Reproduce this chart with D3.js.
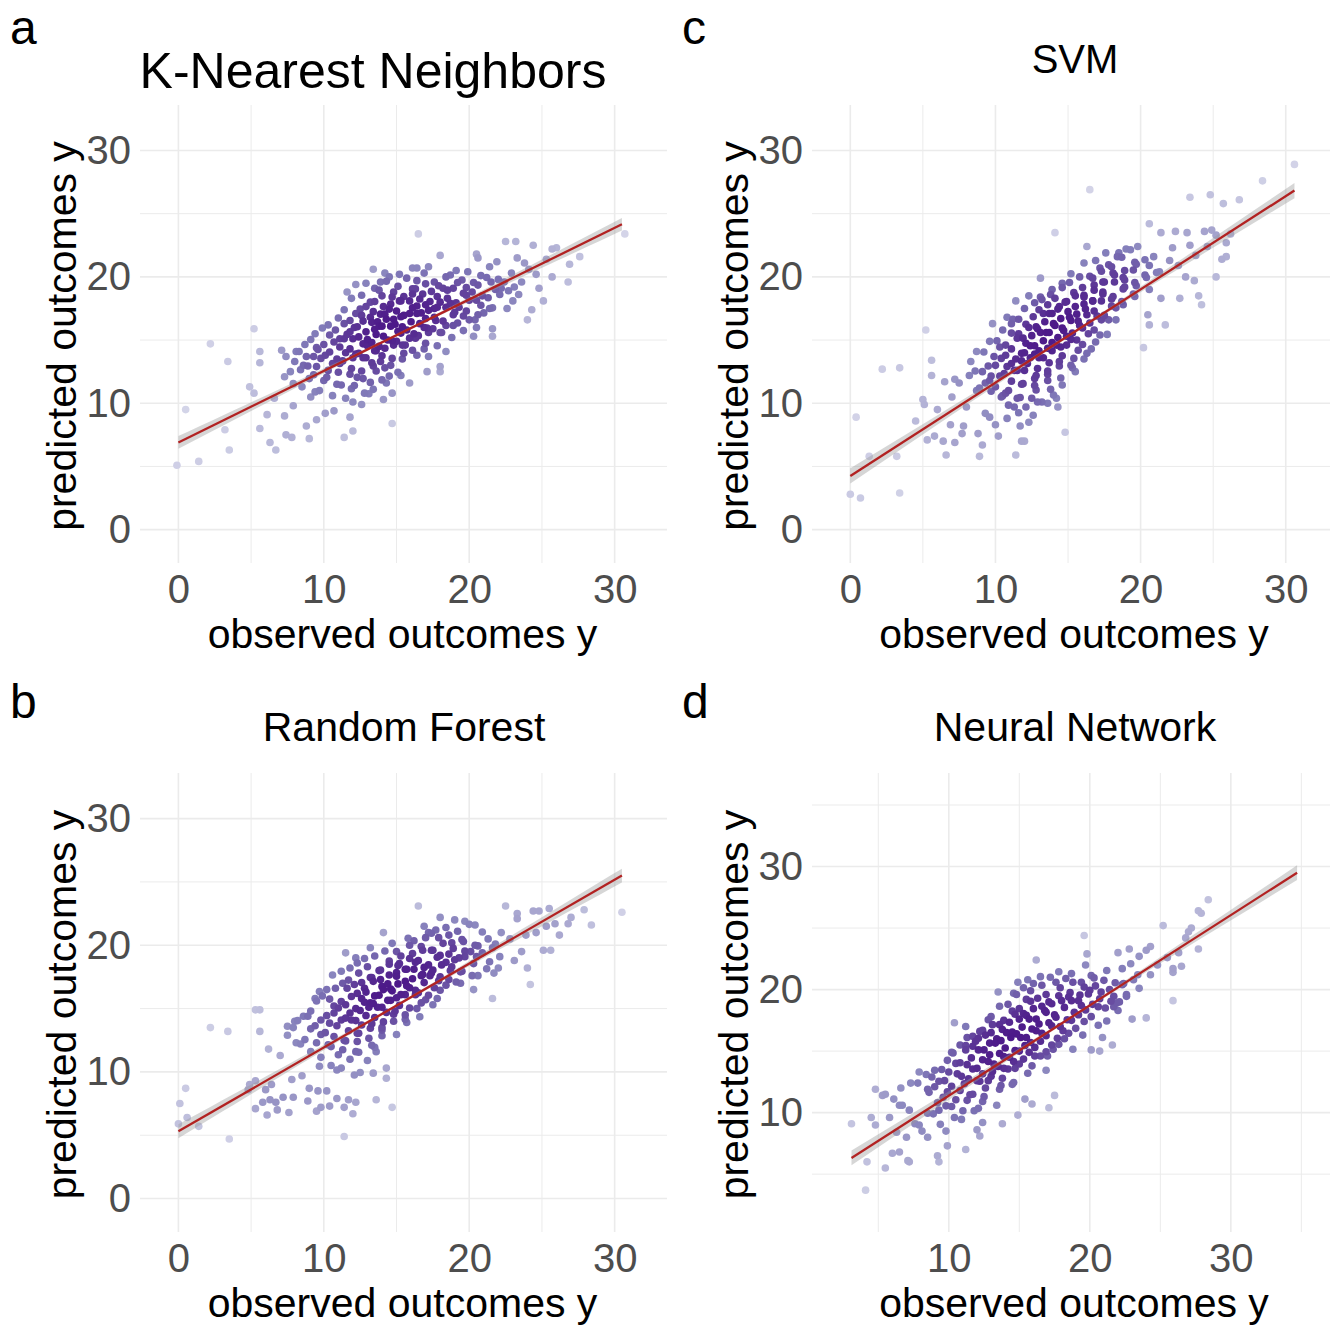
<!doctype html>
<html>
<head>
<meta charset="UTF-8">
<title>Observed vs predicted outcomes</title>
<script src="https://d3js.org/d3.v7.min.js"></script>
<style>
  body { margin: 0; background: #fff; }
</style>
</head>
<body>
<script>
var W = 1330, H = 1325;
var FONT = "'Liberation Sans', Arial, Helvetica, sans-serif";

var titles = ["K-Nearest Neighbors", "SVM", "Random Forest", "Neural Network"];
var tagLetters = ["a", "c", "b", "d"];
var xLabel = "observed outcomes y";
var yLabel = "predicted outcomes y";

var majorTicks = [[0, 10, 20, 30], [0, 10, 20, 30], [0, 10, 20, 30], [10, 20, 30]];
var minorTicks = [[5, 15, 25], [5, 15, 25], [5, 15, 25], [5, 15, 25, 35]];

// fitted lines: [x start, y start, x end, y end]
var fitLines = [[0, 6.9, 30.5, 24.16], [0, 4.25, 30.6, 26.83], [0, 5.31, 30.5, 25.5], [3.1, 6.32, 34.7, 29.5]];
// half width of the grey band: [at the ends, in the middle]
var bandWidth = [[0.5, 0.1], [0.6, 0.12], [0.55, 0.11], [0.6, 0.12]];

// K-Nearest Neighbors: [observed, predicted]
var knnPoints = [
 [-0.1,5.1],[0.5,9.5],[1.4,5.4],[2.2,14.7],[3.2,7.9],[3.4,13.3],[3.5,6.3],[4.9,11.3],[5.2,10.8],[5.2,15.9],
 [5.6,13.2],[5.6,14.1],[5.6,8.0],[6.3,6.9],[6.7,6.3],[6.1,9.1],[6.6,10.4],[7.1,14.2],[7.4,13.7],[7.4,7.5],
 [7.8,7.3],[7.9,9.8],[7.3,9.0],[8.1,14.1],[8.8,13.7],[8.8,8.2],[9.0,7.2],[9.5,14.4],[9.5,8.7],[9.1,10.5],
 [10.1,9.2],[10.7,9.4],[11.4,7.3],[11.8,8.9],[12.0,7.8],[11.5,10.4],[12.0,10.1],[12.6,9.9],[12.8,10.8],[14.7,8.4],
 [14.1,10.3],[14.3,11.6],[14.7,10.8],[15.3,12.2],[15.9,11.6],[17.1,12.5],[18.0,12.5],[18.0,12.9],[17.2,13.7],[18.4,14.1],
 [16.5,23.4],[22.5,22.8],[23.2,22.8],[24.4,22.5],[25.7,22.2],[26.0,22.3],[30.7,23.4],[26.8,19.6],[25.7,20.0],[24.8,19.1],
 [25.1,18.1],[24.0,16.6],[24.3,17.4],[22.6,17.5],[23.0,18.1],[21.6,15.3],[21.6,15.9],[20.3,15.3],[20.5,16.0],[23.3,21.5],
 [20.5,21.8],[20.6,21.5],[18.0,21.7],[21.4,20.8],[14.2,20.3],[13.9,19.6],[12.2,19.4],[11.6,18.8],[16.1,20.7],[16.4,20.7],
 [16.4,19.7],[17.2,20.8],[22.9,20.3],[23.6,19.6],[24.1,20.6],[22.2,19.1],[23.8,21.1],[24.6,20.2],[26.9,21.0],[25.3,21.4],
 [21.9,21.2],[27.6,21.6],
 [13.4,20.6],[15.2,20.2],[16.9,20.3],[18.4,20.0],[19.1,20.5],[19.9,20.4],[20.8,20.1],
 [12.9,19.5],[14.5,20.0],[15.7,19.9],[17.6,19.6],[18.7,20.15],[19.5,19.75],[20.3,19.55],[21.2,19.95],[22.0,19.8],
 [13.5,19.1],[14.3,19.65],[15.1,19.25],[16.3,19.05],[17.0,19.45],[17.9,19.3],[18.5,18.95],[19.2,19.55],[19.8,19.15],[20.6,19.35],[21.5,19.6],[22.4,19.6],[23.1,19.2],
 [12.6,18.55],[13.8,18.95],[14.8,18.8],[15.5,18.45],[16.1,19.05],[16.8,18.65],[17.4,18.85],[18.2,19.1],[18.9,19.1],[19.6,18.7],[20.2,18.8],[20.9,18.5],[21.8,19.0],[22.7,18.9],
 [11.9,18.3],[13.2,18.0],[14.0,18.5],[14.7,18.4],[15.3,18.1],[16.1,18.65],[16.6,18.25],[17.3,18.05],[17.8,18.45],[18.5,18.3],[19.1,17.95],[19.8,18.55],[20.5,18.15],[21.3,18.35],[22.1,18.6],[23.4,18.6],
 [12.5,17.45],[13.5,18.05],[14.1,17.65],[14.6,17.85],[15.2,18.1],[15.9,18.1],[16.4,17.7],[17.0,17.8],[17.6,17.5],[18.0,18.0],[18.7,17.9],[19.3,17.6],[20.0,18.15],[20.8,17.75],[21.6,17.55],
 [11.4,17.4],[12.2,17.1],[12.9,17.65],[13.4,17.25],[13.9,17.05],[14.5,17.45],[15.0,17.3],[15.5,16.95],[16.1,17.55],[16.7,17.15],[17.2,17.35],[17.8,17.6],[18.4,17.6],[19.0,17.2],[19.8,17.3],[20.6,17.0],[21.4,17.5],
 [11.0,16.75],[11.8,16.55],[12.6,16.95],[13.2,16.8],[13.7,16.45],[14.2,17.05],[14.8,16.65],[15.3,16.85],[15.9,17.1],[16.4,17.1],[17.0,16.7],[17.6,16.8],[18.2,16.5],[18.9,17.0],[19.6,16.9],[20.4,16.6],[21.0,17.15],
 [10.3,16.2],[11.4,16.3],[12.1,16.0],[12.7,16.5],[13.3,16.4],[13.8,16.1],[14.3,16.65],[14.9,16.25],[15.4,16.05],[16.0,16.45],[16.6,16.3],[17.1,15.95],[17.7,16.55],[18.4,16.15],[19.2,16.35],[20.0,16.6],
 [9.9,15.95],[10.8,15.8],[11.6,15.45],[12.3,16.05],[12.9,15.65],[13.5,15.85],[14.0,16.1],[14.6,16.1],[15.1,15.7],[15.7,15.8],[16.2,15.5],[16.9,16.0],[17.5,15.9],[18.1,15.6],[18.9,16.15],[19.6,15.75],
 [9.4,15.5],[10.4,15.4],[11.1,15.1],[11.8,15.65],[12.4,15.25],[13.0,15.05],[13.6,15.45],[14.1,15.3],[14.7,14.95],[15.3,15.55],[15.9,15.15],[16.5,15.35],[17.2,15.6],[18.0,15.6],[18.8,15.2],
 [9.1,15.05],[10.0,14.65],[10.7,14.85],[11.4,15.1],[12.0,15.1],[12.7,14.7],[13.3,14.8],[13.8,14.5],[14.4,15.0],[15.0,14.9],[15.6,14.6],[16.3,15.15],[17.0,14.75],[17.8,14.55],
 [8.7,14.65],[9.6,14.25],[10.4,14.05],[11.1,14.45],[11.8,14.3],[12.4,13.95],[13.0,14.55],[13.6,14.15],[14.2,14.35],[14.8,14.6],[15.4,14.6],[16.1,14.2],[16.9,14.3],
 [8.3,14.1],[9.3,13.7],[10.1,13.8],[10.9,13.5],[11.5,14.0],[12.2,13.9],[12.9,13.6],[13.5,14.15],[14.0,13.75],[14.7,13.55],[15.5,13.95],[16.4,13.8],
 [8.0,13.3],[8.9,12.95],[9.8,13.55],[10.6,13.15],[11.3,13.35],[12.0,13.6],[12.7,13.6],[13.3,13.2],[13.9,13.3],[14.6,13.0],[15.4,13.5],
 [7.7,12.5],[8.6,13.0],[9.5,12.9],[10.3,12.6],[11.1,13.15],[11.9,12.75],[12.6,12.55],[13.4,12.95],[14.2,12.8],[15.1,12.45],
 [7.3,12.1],[8.4,12.65],[9.3,12.25],[10.2,12.05],[11.0,12.45],[11.8,12.3],[12.7,11.95],[13.6,12.55],[14.5,12.15],
 [7.9,11.55],[9.0,11.95],[10.0,11.8],[11.2,11.45],[12.3,12.05],[13.2,11.65],[14.0,11.85],
 [8.5,11.3],[9.7,11.0],[10.9,11.5],[12.1,11.4],[13.4,11.1],
 [9.4,10.9],[10.6,10.6],[11.9,11.15],[13.1,10.75]
];

// SVM
var svmPoints = [
 [30.6,28.9],[28.4,27.6],[23.4,26.3],[24.8,26.5],[25.7,25.8],[26.8,26.1],[16.5,26.9],[14.1,23.5],[16.3,22.4],[20.6,24.2],
 [21.4,23.5],[22.4,23.6],[23.2,23.5],[23.4,22.5],[24.4,23.6],[24.9,23.7],[25.2,23.3],[25.9,22.7],[25.9,21.6],[25.6,21.4],
 [25.2,20.0],[24.0,18.5],[24.2,17.8],[23.7,19.7],[23.1,20.0],[22.7,18.3],[21.4,18.3],[21.7,16.2],[20.6,16.2],[20.2,14.4],
 [20.5,17.0],[19.8,22.4],[19.0,22.2],[18.5,21.9],[13.1,19.9],[12.3,18.5],[11.4,18.1],[13.1,18.4],[13.9,19.0],[10.8,16.8],
 [11.1,16.3],[9.8,16.3],[5.2,15.8],[5.6,13.4],[5.6,12.2],[2.2,12.7],[3.4,12.8],[0.4,8.9],[5.0,10.3],[5.1,9.9],
 [3.4,2.9],[0.7,2.5],[0.0,2.8],[3.2,5.8],[1.3,5.8],[5.3,7.1],[5.8,7.4],[6.6,5.9],[7.2,6.9],[6.4,7.0],
 [6.9,8.3],[7.8,8.2],[7.7,7.6],[7.0,10.5],[6.5,11.7],[7.2,11.9],[7.5,11.6],[8.9,5.8],[9.1,6.7],[8.8,7.6],
 [11.4,5.9],[11.8,7.0],[12.0,7.0],[11.7,8.2],[14.8,7.7],[14.3,9.7],[13.6,10.0],[14.2,10.4],[12.5,10.4],[12.1,9.7],
 [11.3,9.7],[22.0,21.3],[23.8,21.7],[21.3,20.4],[22.6,20.9],[24.6,22.4],[26.2,23.4],[20.9,21.6],[22.2,22.3],[8.2,12.2],
 [8.7,11.0],[9.6,11.8],[8.0,9.7],[9.3,9.2],[10.0,8.3],[10.2,7.4],[9.6,8.9],[4.5,8.6],[6.0,9.5],[10.5,10.6],
 [17.6,21.9],[18.4,21.6],[19.3,22.15],
 [16.9,21.3],[17.8,20.95],[18.7,21.55],[19.6,21.15],[20.3,21.35],
 [16.1,21.1],[17.2,20.7],[18.0,20.8],[18.9,20.5],[19.7,21.0],[20.6,20.9],
 [15.2,20.25],[16.5,20.05],[17.3,20.45],[18.1,20.3],[18.8,19.95],[19.5,20.55],[20.3,20.15],[21.1,20.35],
 [14.6,19.5],[15.8,20.0],[16.7,19.9],[17.4,19.6],[18.2,20.15],[18.9,19.75],[19.6,19.55],[20.4,19.95],
 [15.1,19.55],[16.0,19.15],[16.8,19.35],[17.5,19.6],[18.2,19.6],[18.9,19.2],[19.7,19.3],[20.6,19.0],
 [13.8,18.6],[14.6,19.15],[15.4,18.75],[16.1,18.55],[16.8,18.95],[17.4,18.8],[18.1,18.45],[18.8,19.05],[19.5,18.65],
 [13.2,18.2],[14.1,18.3],[14.8,18.0],[15.5,18.5],[16.1,18.4],[16.7,18.1],[17.4,18.65],[18.0,18.25],[18.7,18.05],[19.6,18.45],
 [12.7,17.95],[13.6,17.8],[14.3,17.45],[14.9,18.05],[15.5,17.65],[16.1,17.85],[16.7,18.1],[17.3,18.1],[18.0,17.7],[18.8,17.8],
 [12.0,17.5],[13.0,17.4],[13.7,17.1],[14.4,17.65],[15.0,17.25],[15.6,17.05],[16.2,17.45],[16.8,17.3],[17.5,16.95],[18.3,17.55],
 [11.6,16.65],[12.6,16.85],[13.3,17.1],[13.9,17.1],[14.5,16.7],[15.1,16.8],[15.7,16.5],[16.3,17.0],[17.0,16.9],[17.8,16.6],
 [11.2,16.65],[12.1,16.25],[12.8,16.05],[13.4,16.45],[14.0,16.3],[14.6,15.95],[15.2,16.55],[15.8,16.15],[16.5,16.35],[17.3,16.6],[18.3,16.6],
 [10.5,15.8],[11.6,15.5],[12.3,16.0],[12.9,15.9],[13.5,15.6],[14.1,16.15],[14.7,15.75],[15.3,15.55],[16.0,15.95],[16.8,15.8],[17.7,15.45],
 [10.1,14.95],[11.1,15.55],[11.9,15.15],[12.5,15.35],[13.1,15.6],[13.7,15.6],[14.3,15.2],[14.9,15.3],[15.6,15.0],[16.4,15.5],[17.2,15.4],
 [9.6,14.9],[10.7,14.6],[11.5,15.15],[12.1,14.75],[12.7,14.55],[13.3,14.95],[13.9,14.8],[14.5,14.45],[15.2,15.05],[16.0,14.65],[16.9,14.85],
 [9.2,14.05],[10.3,14.45],[11.1,14.3],[11.8,13.95],[12.4,14.55],[13.0,14.15],[13.6,14.35],[14.2,14.6],[14.9,14.6],[15.7,14.2],[16.6,14.3],
 [8.7,14.1],[9.9,13.7],[10.7,13.8],[11.4,13.5],[12.0,14.0],[12.7,13.9],[13.3,13.6],[13.9,14.15],[14.6,13.75],[15.4,13.55],[16.3,13.95],
 [8.3,13.3],[9.5,12.95],[10.4,13.55],[11.1,13.15],[11.8,13.35],[12.4,13.6],[13.0,13.6],[13.7,13.2],[14.4,13.3],[15.2,13.0],[16.1,13.5],
 [9.1,12.5],[10.0,13.0],[10.8,12.9],[11.5,12.6],[12.2,13.15],[12.9,12.75],[13.6,12.55],[14.4,12.95],[15.3,12.8],
 [8.6,12.55],[9.7,12.15],[10.6,12.35],[11.3,12.6],[12.0,12.6],[12.8,12.2],[13.6,12.3],[14.5,12.0],[15.5,12.5],
 [9.3,11.6],[10.3,12.15],[11.1,11.75],[11.9,11.55],[12.7,11.95],[13.6,11.8],[14.6,11.45],
 [8.9,11.2],[10.0,11.3],[10.9,11.0],[11.8,11.5],[12.7,11.4],[13.8,11.1],
 [9.7,10.95],[10.7,10.8],[11.7,10.45],[12.8,11.05],[14.0,10.65],
 [10.4,10.5],[11.5,10.4],[12.9,10.1],
 [10.9,9.85],[13.2,10.1],
 [11.6,9.25],[12.6,9.05],
 [10.8,8.8],[12.3,8.5]
];

// Random Forest
var rfPoints = [
 [16.5,23.1],[22.5,23.1],[23.3,22.5],[23.3,22.1],[24.4,22.7],[24.8,22.7],[27.9,22.8],[28.4,21.6],[26.8,21.7],[25.9,21.7],
 [25.3,21.5],[30.5,22.6],[25.1,19.6],[25.6,19.6],[24.2,16.9],[24.0,18.2],[23.6,19.5],[23.1,18.8],[22.0,18.2],[21.7,17.8],
 [21.6,15.8],[20.3,16.5],[20.6,17.6],[14.1,21.0],[18.0,22.2],[17.2,21.0],[17.7,21.2],[19.7,21.9],[20.4,21.6],[19.0,22.0],
 [11.5,19.4],[12.2,19.0],[9.4,15.8],[9.9,16.0],[5.3,14.9],[5.6,14.9],[2.2,13.5],[3.4,13.2],[5.6,13.2],[7.5,13.6],
 [8.0,14.0],[8.9,14.4],[0.5,8.7],[0.1,7.5],[0.0,5.9],[1.4,5.7],[3.5,4.7],[0.6,6.4],[5.3,9.3],[4.9,9.0],
 [11.4,4.9],[12.0,6.7],[11.4,7.2],[11.7,7.8],[12.2,7.6],[13.6,7.8],[14.7,7.2],[14.3,9.5],[13.4,9.9],[14.3,10.3],
 [5.3,7.1],[5.8,7.6],[6.3,7.8],[7.2,8.0],[7.9,8.0],[7.6,6.8],[6.8,7.0],[6.7,7.6],[6.1,6.6],[4.8,8.6],
 [6.0,8.6],[6.4,9.0],[7.8,9.4],[8.5,9.7],[9.0,8.7],[9.6,8.5],[8.9,7.7],[9.5,6.9],[10.4,7.3],[10.2,8.5],
 [10.9,7.9],[9.8,7.2],[7.0,11.3],[7.5,12.9],[6.2,11.8],[8.1,12.3],[22.8,20.5],[23.9,20.8],[21.8,20.1],[24.6,21.0],
 [26.2,20.8],[22.2,21.0],[25.5,22.9],[27.0,22.2],
 [16.9,21.5],[18.4,21.4],[19.2,21.1],[20.0,21.65],
 [15.8,20.55],[17.4,20.95],[18.6,20.8],[19.5,20.45],[20.9,21.05],
 [14.7,20.15],[16.2,20.35],[17.0,20.6],[17.9,20.6],[18.8,20.2],[19.6,20.3],[20.4,20.0],[21.3,20.5],
 [13.2,19.8],[15.0,19.5],[15.9,20.0],[16.7,19.9],[17.5,19.6],[18.2,20.15],[18.9,19.75],[19.7,19.55],[20.6,19.95],[21.6,19.8],
 [12.8,18.95],[14.2,19.55],[15.3,19.15],[16.1,19.35],[16.8,19.6],[17.4,19.6],[18.0,19.2],[18.6,19.3],[19.3,19.0],[20.1,19.5],[20.9,19.4],[22.1,19.1],
 [12.3,18.6],[13.5,19.15],[14.5,18.75],[15.2,18.55],[15.9,18.95],[16.5,18.8],[17.2,18.45],[17.8,19.05],[18.4,18.65],[19.0,18.85],[19.7,19.1],[20.5,19.1],[21.4,18.7],
 [11.8,18.2],[13.0,18.3],[13.8,18.0],[14.5,18.5],[15.1,18.4],[15.7,18.1],[16.3,18.65],[16.9,18.25],[17.5,18.05],[18.1,18.45],[18.8,18.3],[19.5,17.95],[20.3,18.55],[21.2,18.15],
 [11.2,17.95],[12.4,17.8],[13.2,17.45],[13.9,18.05],[14.5,17.65],[15.0,17.85],[15.6,18.1],[16.2,18.1],[16.8,17.7],[17.4,17.8],[18.0,17.5],[18.7,18.0],[19.4,17.9],[20.2,17.6],
 [10.6,17.65],[11.7,17.25],[12.6,17.05],[13.3,17.45],[13.9,17.3],[14.4,16.95],[15.0,17.55],[15.6,17.15],[16.1,17.35],[16.7,17.6],[17.3,17.6],[17.9,17.2],[18.6,17.3],[19.4,17.0],
 [10.2,16.5],[11.3,17.0],[12.1,16.9],[12.8,16.6],[13.4,17.15],[14.0,16.75],[14.6,16.55],[15.1,16.95],[15.7,16.8],[16.3,16.45],[16.9,17.05],[17.6,16.65],[18.4,16.85],[19.1,17.1],
 [9.7,16.35],[10.8,16.6],[11.6,16.6],[12.3,16.2],[12.9,16.3],[13.5,16.0],[14.1,16.5],[14.7,16.4],[15.3,16.1],[15.9,16.65],[16.5,16.25],[17.2,16.05],[18.0,16.45],
 [10.4,15.75],[11.2,15.55],[11.9,15.95],[12.6,15.8],[13.2,15.45],[13.8,16.05],[14.4,15.65],[15.0,15.85],[15.6,16.1],[16.3,16.1],[17.0,15.7],[17.8,15.8],
 [9.5,15.6],[10.7,15.2],[11.5,15.3],[12.2,15.0],[12.8,15.5],[13.4,15.4],[14.0,15.1],[14.6,15.65],[15.2,15.25],[15.9,15.05],[16.7,15.45],[17.5,15.3],
 [9.1,14.8],[10.2,14.45],[11.0,15.05],[11.8,14.65],[12.5,14.85],[13.1,15.1],[13.7,15.1],[14.3,14.7],[14.9,14.8],[15.6,14.5],[16.4,15.0],
 [8.6,14.4],[9.8,14.1],[10.7,14.65],[11.5,14.25],[12.2,14.05],[12.9,14.45],[13.5,14.3],[14.1,13.95],[14.8,14.55],[15.6,14.15],[16.6,14.35],
 [8.2,14.05],[9.4,13.65],[10.4,13.85],[11.2,14.1],[11.9,14.1],[12.6,13.7],[13.3,13.8],[14.0,13.5],[14.8,14.0],[15.7,13.9],
 [7.9,13.5],[9.1,13.4],[10.1,13.1],[10.9,13.65],[11.7,13.25],[12.4,13.05],[13.2,13.45],[14.0,13.3],[15.0,12.95],
 [8.7,12.55],[9.8,12.95],[10.7,12.8],[11.5,12.45],[12.3,13.05],[13.1,12.65],[14.0,12.85],
 [8.4,12.2],[9.5,12.3],[10.5,12.0],[11.4,12.5],[12.3,12.4],[13.3,12.1],
 [9.1,11.6],[10.3,12.15],[11.3,11.75],[12.4,11.55],[13.5,11.95],
 [9.8,11.15],[11.0,11.35],[12.2,11.6],[13.6,11.6],
 [10.5,10.5],[11.8,11.0],[13.0,10.9],
 [9.7,10.45],[11.2,10.3],[12.5,9.95],
 [10.9,10.15],[12.1,9.75]
];

// Neural Network
var nnPoints = [
 [28.4,27.3],[27.7,26.4],[27.9,26.2],[25.2,25.2],[27.2,25.0],[27.0,24.7],[27.7,23.3],[26.3,23.0],[25.9,21.7],[26.5,21.9],
 [25.9,21.4],[25.9,19.1],[19.6,24.4],[19.8,22.9],[16.2,22.4],[19.7,22.0],[24.0,17.7],[23.0,17.6],[21.6,15.5],[20.9,16.1],
 [20.7,15.0],[20.1,15.1],[22.0,18.3],[21.9,18.9],[13.5,19.8],[14.9,20.6],[14.6,19.7],[15.6,20.8],[10.4,17.3],[10.2,14.9],
 [4.8,11.9],[5.3,11.4],[4.5,9.6],[4.8,9.0],[3.1,9.1],[4.2,6.0],[5.5,5.5],[4.1,3.7],[6.5,10.6],[6.7,10.6],
 [24.3,23.5],[24.0,23.2],[23.5,22.7],[22.9,22.1],[22.3,21.7],[22.8,23.3],[22.0,23.0],[23.4,21.2],[11.2,17.0],[11.9,15.8],
 [11.3,16.1],[12.4,16.7],[13.0,16.5],[7.9,13.3],[8.4,13.1],[7.3,12.4],[7.8,12.4],[8.5,11.9],[7.2,10.2],[7.6,9.1],
 [7.9,9.0],[8.1,8.5],[6.0,6.7],[6.5,6.8],[7.1,6.1],[7.2,6.0],[9.2,6.5],[9.3,6.0],[9.9,7.3],[11.2,7.0],
 [13.8,9.1],[14.9,9.8],[15.9,10.7],[17.1,10.4],[17.5,11.4],[15.4,11.1],[12.0,8.6],[12.2,8.1],[12.4,9.2],[5.5,11.5],
 [6.1,11.1],[6.6,12.0],[9.3,10.2],[8.5,8.0],[9.8,8.5],[23.5,20.1],[24.3,21.2],[22.6,19.6],[24.8,22.0],[23.1,20.8],
 [25.5,22.6],[22.3,20.4],[26.8,24.2],[6.3,8.4],[5.8,9.6],[7.0,8.0],
 [16.5,21.05],[17.8,21.45],[18.7,21.3],[20.3,20.95],[21.2,21.55],
 [16.0,20.5],[17.2,21.0],[18.3,20.9],[19.4,20.6],[20.1,21.15],[21.0,20.75],[21.8,20.55],
 [15.3,20.15],[16.6,20.35],[17.6,20.6],[18.8,20.6],[19.6,20.2],[20.4,20.3],[21.4,20.0],[22.4,20.5],
 [15.8,19.9],[16.9,19.6],[17.9,20.15],[18.6,19.75],[19.3,19.55],[20.0,19.95],[20.8,19.8],[21.7,19.45],
 [14.8,19.6],[15.5,19.2],[16.3,19.3],[17.1,19.0],[17.8,19.5],[18.5,19.4],[19.2,19.1],[19.9,19.65],[20.7,19.25],[21.5,19.05],[22.6,19.45],
 [14.2,18.8],[15.0,18.45],[15.8,19.05],[16.6,18.65],[17.3,18.85],[18.0,19.1],[18.7,19.1],[19.4,18.7],[20.2,18.8],[21.1,18.5],[22.1,19.0],
 [13.6,18.65],[14.5,18.25],[15.3,18.05],[16.0,18.45],[16.8,18.3],[17.5,17.95],[18.2,18.55],[18.9,18.15],[19.7,18.35],[20.6,18.6],[21.7,18.6],
 [13.0,17.8],[13.9,17.5],[14.7,18.0],[15.5,17.9],[16.2,17.6],[16.9,18.15],[17.6,17.75],[18.4,17.55],[19.2,17.95],[20.1,17.8],[21.2,17.45],
 [12.8,17.55],[13.6,17.15],[14.3,17.35],[15.0,17.6],[15.7,17.6],[16.4,17.2],[17.1,17.3],[17.9,17.0],[18.7,17.5],[19.6,17.4],[20.6,17.1],
 [12.2,16.6],[13.1,17.15],[13.8,16.75],[14.5,16.55],[15.2,16.95],[15.9,16.8],[16.6,16.45],[17.3,17.05],[18.1,16.65],[19.0,16.85],
 [11.7,16.2],[12.6,16.3],[13.4,16.0],[14.1,16.5],[14.8,16.4],[15.5,16.1],[16.2,16.65],[16.9,16.25],[17.7,16.05],[18.5,16.45],[19.5,16.3],
 [11.2,15.45],[12.1,16.05],[12.9,15.65],[13.7,15.85],[14.4,16.1],[15.1,16.1],[15.8,15.7],[16.5,15.8],[17.3,15.5],[18.2,16.0],
 [10.8,15.5],[11.7,15.4],[12.5,15.1],[13.3,15.65],[14.0,15.25],[14.7,15.05],[15.4,15.45],[16.1,15.3],[16.9,14.95],[17.8,15.55],[18.8,15.15],
 [10.3,14.85],[11.2,15.1],[12.1,15.1],[12.9,14.7],[13.6,14.8],[14.3,14.5],[15.0,15.0],[15.7,14.9],[16.5,14.6],[17.4,15.15],
 [9.9,14.25],[10.8,14.05],[11.6,14.45],[12.4,14.3],[13.2,13.95],[13.9,14.55],[14.6,14.15],[15.3,14.35],[16.1,14.6],[17.0,14.6],
 [9.5,13.5],[10.5,14.0],[11.3,13.9],[12.0,13.6],[12.8,14.15],[13.5,13.75],[14.2,13.55],[15.0,13.95],[15.9,13.8],[16.9,13.45],
 [9.0,13.45],[10.0,13.3],[10.9,12.95],[11.7,13.55],[12.4,13.15],[13.1,13.35],[13.9,13.6],[14.7,13.6],[15.6,13.2],
 [8.8,12.9],[9.7,12.6],[10.6,13.15],[11.4,12.75],[12.2,12.55],[13.0,12.95],[13.8,12.8],[14.6,12.45],
 [9.3,12.55],[10.2,12.15],[11.1,12.35],[12.0,12.6],[12.8,12.6],[13.7,12.2],[14.5,12.3],
 [9.0,12.1],[9.9,11.7],[10.8,11.8],[11.7,11.5],[12.6,12.0],[13.6,11.9],
 [8.6,11.65],[9.6,11.25],[10.5,11.05],[11.5,11.45],[12.5,11.3],
 [9.2,10.8],[10.2,10.5],[11.3,11.0],[12.4,10.9],[13.4,10.6],
 [8.5,9.95],[9.8,10.55],[11.0,10.15],[12.1,10.35],
 [8.9,9.9],[10.4,9.6],[11.8,10.15],
 [9.4,9.05],[10.9,9.45]
];

var allPoints = [knnPoints, svmPoints, rfPoints, nnPoints];

// panel placement (pixels) and axis limits
var panels = [
  {l: 140, r: 667, t: 105, b: 563, dom: [-2.64, 33.6], titleX: 373, titleY: 88, titleSize: 50, tagX: 10, tagY: 44},
  {l: 812, r: 1338, t: 105, b: 563, dom: [-2.64, 33.6], titleX: 1075, titleY: 73, titleSize: 40, tagX: 682, tagY: 44},
  {l: 140, r: 667, t: 773, b: 1232, dom: [-2.64, 33.6], titleX: 404, titleY: 741, titleSize: 41, tagX: 10, tagY: 718},
  {l: 812, r: 1338, t: 773, b: 1232, dom: [0.3, 37.6], titleX: 1075, titleY: 741, titleSize: 41, tagX: 682, tagY: 718}
];

var svg = d3.select("body").append("svg")
    .attr("width", W)
    .attr("height", H)
    .style("font-family", FONT);

panels.forEach(function(p, i){
    drawPanel(p, i);
});

function drawPanel(p, i){
    var x = d3.scaleLinear().domain(p.dom).range([p.l, p.r]);
    var y = d3.scaleLinear().domain(p.dom).range([p.b, p.t]);
    var g = svg.append("g");

    g.append("clipPath").attr("id", "clip" + i)
      .append("rect")
      .attr("x", p.l).attr("y", p.t)
      .attr("width", p.r - p.l).attr("height", p.b - p.t);

    //grid-----------------------
    var grid = g.append("g").attr("stroke", "#ebebeb");
    grid.selectAll(".vminor").data(minorTicks[i]).enter().append("line")
        .attr("x1", function(d){ return x(d); }).attr("x2", function(d){ return x(d); })
        .attr("y1", p.t).attr("y2", p.b).attr("stroke-width", 1);
    grid.selectAll(".hminor").data(minorTicks[i]).enter().append("line")
        .attr("y1", function(d){ return y(d); }).attr("y2", function(d){ return y(d); })
        .attr("x1", p.l).attr("x2", p.r).attr("stroke-width", 1);
    grid.selectAll(".vmajor").data(majorTicks[i]).enter().append("line")
        .attr("x1", function(d){ return x(d); }).attr("x2", function(d){ return x(d); })
        .attr("y1", p.t).attr("y2", p.b).attr("stroke-width", 1.6);
    grid.selectAll(".hmajor").data(majorTicks[i]).enter().append("line")
        .attr("y1", function(d){ return y(d); }).attr("y2", function(d){ return y(d); })
        .attr("x1", p.l).attr("x2", p.r).attr("stroke-width", 1.6);

    //points, coloured by local density-----------------------
    var pts = allPoints[i].map(function(d){ return {x: d[0], y: d[1]}; });
    var bw = 1.3;
    pts.forEach(function(a){
        var s = 0;
        pts.forEach(function(b){
            var dx = a.x - b.x, dy = a.y - b.y;
            s += Math.exp(-(dx*dx + dy*dy) / (2*bw*bw));
        });
        a.dens = s;
    });
    var maxD = d3.max(pts, function(d){ return d.dens; });
    pts.sort(function(a, b){ return a.dens - b.dens; });

    var plot = g.append("g").attr("clip-path", "url(#clip" + i + ")");
    plot.selectAll("circle").data(pts).enter().append("circle")
        .attr("cx", function(d){ return x(d.x); })
        .attr("cy", function(d){ return y(d.y); })
        .attr("r", 3.8)
        .attr("fill", function(d){
            return d3.interpolatePurples(0.2 + 0.72 * Math.pow(d.dens / maxD, 0.65));
        });

    //fit line with band-----------------------
    var f = fitLines[i], w = bandWidth[i];
    var slope = (f[3] - f[1]) / (f[2] - f[0]);
    var xc = (f[0] + f[2]) / 2, half = (f[2] - f[0]) / 2;
    var xs = d3.range(0, 41).map(function(k){ return f[0] + (f[2] - f[0]) * k / 40; });
    function fitAt(v){ return f[1] + slope * (v - f[0]); }
    function halfAt(v){
        var u = (v - xc) / half;
        return Math.sqrt(w[1]*w[1] + (w[0]*w[0] - w[1]*w[1]) * u * u);
    }
    plot.append("path").datum(xs)
        .attr("d", d3.area()
            .x(function(d){ return x(d); })
            .y0(function(d){ return y(fitAt(d) - halfAt(d)); })
            .y1(function(d){ return y(fitAt(d) + halfAt(d)); }))
        .attr("fill", "#999999").attr("fill-opacity", 0.4);
    plot.append("path").datum([f[0], f[2]])
        .attr("d", d3.line()
            .x(function(d){ return x(d); })
            .y(function(d){ return y(fitAt(d)); }))
        .attr("stroke", "#b22222").attr("stroke-width", 2.3).attr("fill", "none");

    //axes-----------------------
    var ax = g.append("g").attr("transform", "translate(0," + p.b + ")")
        .call(d3.axisBottom(x).tickValues(majorTicks[i]).tickSize(0).tickPadding(12));
    var ay = g.append("g").attr("transform", "translate(" + p.l + ",0)")
        .call(d3.axisLeft(y).tickValues(majorTicks[i]).tickSize(0).tickPadding(9));
    [ax, ay].forEach(function(a){
        a.select(".domain").remove();
        a.attr("font-family", FONT).attr("font-size", 40);
        a.selectAll("text").attr("fill", "#4d4d4d");
    });

    //labels-----------------------
    g.append("text")
        .attr("x", (p.l + p.r) / 2 - 1).attr("y", p.b + 85)
        .attr("text-anchor", "middle").attr("font-size", 41)
        .text(xLabel);
    g.append("text")
        .attr("transform", "translate(" + (p.l - 64) + "," + ((p.t + p.b) / 2 + 2) + ") rotate(-90)")
        .attr("text-anchor", "middle").attr("font-size", 41)
        .text(yLabel);
    g.append("text")
        .attr("x", p.titleX).attr("y", p.titleY)
        .attr("text-anchor", "middle").attr("font-size", p.titleSize)
        .text(titles[i]);
    g.append("text")
        .attr("x", p.tagX).attr("y", p.tagY)
        .attr("font-size", 48)
        .text(tagLetters[i]);
}
</script>
</body>
</html>
